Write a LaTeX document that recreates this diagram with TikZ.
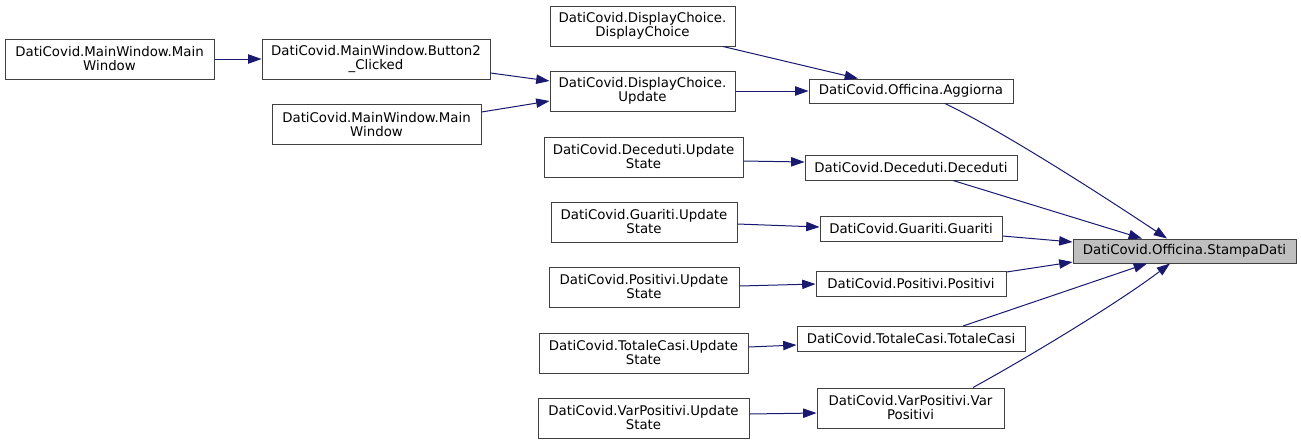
\documentclass[tikz,border=0pt]{standalone}
\usepackage{fontspec}
\setmainfont{DejaVu Sans}
\usetikzlibrary{arrows.meta,calc}
\definecolor{edgeblue}{HTML}{191970}
\definecolor{boxline}{HTML}{404040}
\definecolor{hl}{HTML}{BFBFBF}
\begin{document}
\begin{tikzpicture}[x=0.75pt,y=-0.75pt,
  fn/.style={draw=boxline, line width=0.75pt, fill=white, inner sep=0pt,
    align=center, font=\fontsize{10}{10.5}\selectfont, text=black},
  wh/.style 2 args={minimum width=#1*0.75pt, minimum height=#2*0.75pt},
  call/.style={draw=edgeblue, line width=0.75pt, -{Triangle[length=10pt,width=7pt]}}
]
\useasboundingbox (0,0) rectangle (1301,444);

\node[fn, wh={209}{40}] (mw1) at (109.5,59) {DatiCovid.MainWindow.Main\\Window};
\node[fn, wh={228}{40}] (btn) at (376,59) {DatiCovid.MainWindow.Button2\\\_Clicked};
\node[fn, wh={209}{40}] (mw2) at (376.5,124.5) {DatiCovid.MainWindow.Main\\Window};
\node[fn, wh={185}{40}] (dcdc) at (642.5,26) {DatiCovid.DisplayChoice.\\DisplayChoice};
\node[fn, wh={185}{40}] (dcup) at (642.5,91) {DatiCovid.DisplayChoice.\\Update};
\node[fn, wh={204}{24}] (agg) at (911,91) {DatiCovid.Officina.Aggiorna};
\node[fn, wh={199}{40}] (decus) at (643.5,157) {DatiCovid.Deceduti.Update\\State};
\node[fn, wh={212}{25}] (dec) at (911,167.5) {DatiCovid.Deceduti.Deceduti};
\node[fn, wh={186}{40}] (guaus) at (644,222) {DatiCovid.Guariti.Update\\State};
\node[fn, wh={182}{25}] (gua) at (911,228.5) {DatiCovid.Guariti.Guariti};
\node[fn, wh={190}{40}] (posus) at (644,287) {DatiCovid.Positivi.Update\\State};
\node[fn, wh={190}{25}] (pos) at (911,283.5) {DatiCovid.Positivi.Positivi};
\node[fn, wh={209}{40}] (totus) at (643.5,353) {DatiCovid.TotaleCasi.Update\\State};
\node[fn, wh={228}{25}] (tot) at (911,339) {DatiCovid.TotaleCasi.TotaleCasi};
\node[fn, wh={211}{40}] (varus) at (643.5,418) {DatiCovid.VarPositivi.Update\\State};
\node[fn, wh={187}{40}] (var) at (910.5,408) {DatiCovid.VarPositivi.Var\\Positivi};
\node[fn, wh={223}{24}, fill=hl] (sd) at (1184.5,251) {DatiCovid.Officina.StampaDati};

\draw[call] (mw1.east) -- (btn.west);
\draw[call] ($(btn.east)+(0,14)$) -- ($(dcup.west)+(0,-10)$);
\draw[call] ($(mw2.east)+(0,-12.5)$) -- ($(dcup.west)+(0,10)$);
\draw[call] ($(dcdc.south)+(80.5,0)$) -- ($(agg.north)+(-53,0)$);
\draw[call] (dcup.east) -- (agg.west);
\draw[call] ($(agg.south)+(34,0)$) .. controls +(60,29) and +(-60,-40) .. ($(sd.north)+(-17.5,0)$);
\draw[call] ($(decus.east)+(0,4)$) -- ($(dec.west)+(0,-5.5)$);
\draw[call] ($(dec.south)+(42,0)$) -- ($(sd.north)+(-42.5,0)$);
\draw[call] ($(guaus.east)+(0,2)$) -- ($(gua.west)+(0,-1.5)$);
\draw[call] ($(gua.east)+(0,7.5)$) -- ($(sd.west)+(0,-9)$);
\draw[call] ($(posus.east)+(0,-1)$) -- ($(pos.west)+(0,0.5)$);
\draw[call] ($(pos.east)+(0,-11.5)$) -- ($(sd.west)+(0,11)$);
\draw[call] ($(totus.east)+(0,-6)$) -- ($(tot.west)+(0,6)$);
\draw[call] ($(tot.north)+(52,0)$) -- ($(sd.south)+(-37.5,0)$);
\draw[call] ($(varus.east)+(0,-4)$) -- ($(var.west)+(0,5)$);
\draw[call] ($(var.north)+(62.5,0)$) .. controls +(60,-33) and +(-50,38) .. ($(sd.south)+(-14.5,0)$);
\end{tikzpicture}
\end{document}
